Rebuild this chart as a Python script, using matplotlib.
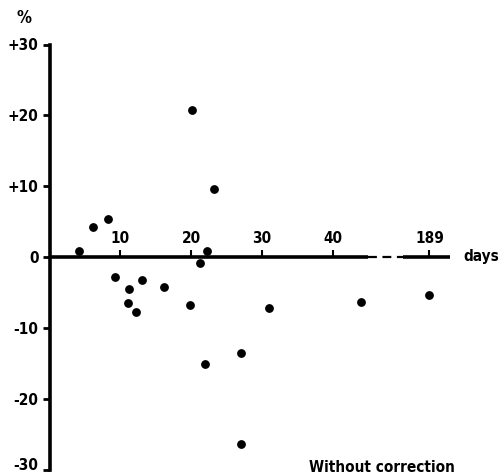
import matplotlib
matplotlib.use("Agg")
import matplotlib.pyplot as plt
from matplotlib import transforms

# data (days after start, deviation in %)
days = [4.2, 6.1, 8.2, 9.2, 11.2, 11.1, 12.2, 13.1, 16.2, 19.9,
        20.1, 21.2, 22.2, 22.0, 23.2, 27.1, 27.0, 31.0, 44.0, 189]
deviation = [0.8, 4.3, 5.3, -2.8, -4.5, -6.5, -7.7, -3.2, -4.2, -6.8,
             20.7, -0.9, 0.8, -15.1, 9.6, -13.6, -26.4, -7.2, -6.4, -5.3]

x_ticks = [10, 20, 30, 40, 189]
y_ticks = [30, 20, 10, 0, -10, -20, -30]
y_tick_labels = ["+30", "+20", "+10", "0", "-10", "-20", "-30"]

# broken x axis: linear up to the gap, then 189 days sits just after it
GAP = (45.0, 49.9)
POS_189 = 53.7
X_END = 56.6


def to_axis(d):
    return d if d < 100 else POS_189 + (d - 189)


plt.rcParams['font.family'] = ['DejaVu Sans']
plt.rcParams['font.stretch'] = 'condensed'
plt.rcParams['font.weight'] = 'bold'
plt.rcParams['font.size'] = 11

fig = plt.figure(figsize=(5.01, 4.76), dpi=100)
W, H = 501, 476
ax = fig.add_axes([49.5 / W, 1 - 469.5 / H, (450 - 49.5) / W, (469.5 - 44.5) / H])

ax.plot([to_axis(d) for d in days], deviation, 'o', color='black',
        ms=5.3, clip_on=False)

ax.set_xlim(0, X_END)
ax.set_ylim(-30, 30)

# axes lines
for s in ['top', 'right']:
    ax.spines[s].set_visible(False)
ax.spines['left'].set_linewidth(2.6)
ax.spines['bottom'].set_position(('data', 0))
ax.spines['bottom'].set_linewidth(0)
ax.plot([0, GAP[0]], [0, 0], color='black', lw=2.6, solid_capstyle='butt')
ax.plot(GAP, [0, 0], color='black', lw=1.6, ls=(0, (4, 2.5)))
ax.plot([GAP[1], X_END], [0, 0], color='black', lw=2.6, solid_capstyle='butt')

ax.set_yticks(y_ticks, y_tick_labels)
ax.tick_params(axis='y', direction='out', length=5, width=2, pad=3)
# lowest label sits a little above its tick, as in the original
low = ax.get_yticklabels()[-1]
low.set_transform(low.get_transform() +
                  transforms.ScaledTranslation(0, 4 / 72, fig.dpi_scale_trans))

ax.set_xticks([to_axis(d) for d in x_ticks], [str(d) for d in x_ticks])
ax.tick_params(axis='x', direction='in', length=5, width=1.5, pad=-8)
for lbl in ax.get_xticklabels():
    lbl.set_va('bottom')

fig.text(24 / W, 1 - 18 / H, "%", ha='center', va='center', fontsize=12)
fig.text(463 / W, 1 - 256 / H, "days", ha='left', va='center')
fig.text(455 / W, 1 - 467 / H, "Without correction", ha='right', va='center')

fig.savefig("out.png", dpi=100)
